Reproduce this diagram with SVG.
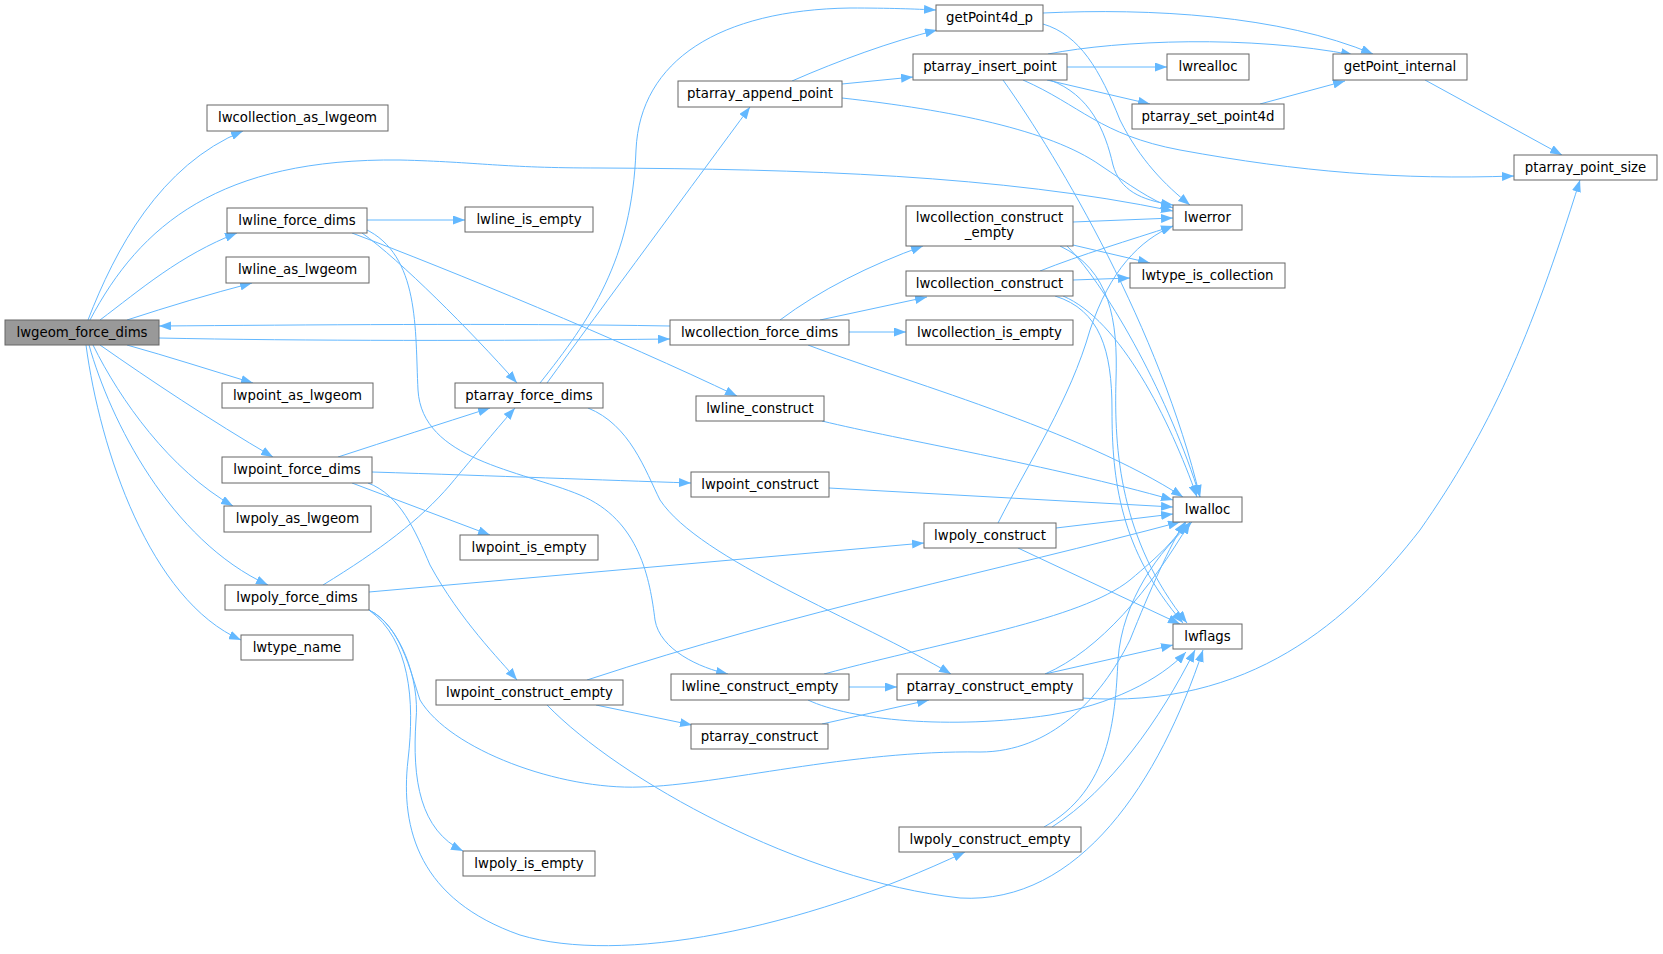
<svg xmlns="http://www.w3.org/2000/svg" width="1663" height="954" viewBox="0 0 1663 954">
<style>
.n rect{fill:#ffffff;stroke:#666666;stroke-width:1}
.n.h rect{fill:#999999}
.n text{font-family:"DejaVu Sans","Liberation Sans",sans-serif;font-size:13.3px;text-anchor:middle;fill:#000000}
.e path{fill:none;stroke:#63b8ff;stroke-width:1;marker-end:url(#a)}
</style>
<defs>
<marker id="a" markerWidth="12" markerHeight="9" refX="12" refY="4.5" orient="auto" markerUnits="userSpaceOnUse"><path d="M0,0 L12,4.5 L0,9 z" fill="#63b8ff"/></marker>
</defs>
<rect width="1663" height="954" fill="#ffffff"/>
<g id="connectors" class="e">
<path d="M88,320 C115,250 160,165 243,131"/>
<path d="M90,320 C140,225 220,158 400,160 C480,162 500,168 600,168 C800,169 1000,175 1173,211"/>
<path d="M100,320 C140,290 180,255 237,233"/>
<path d="M127,320 C170,306 210,294 252,283"/>
<path d="M159,338 C300,341 500,341 670,339"/>
<path d="M670,326 C500,323 300,325 159,326"/>
<path d="M127,345 C170,357 210,370 253,383"/>
<path d="M100,345 C150,380 210,420 273,457"/>
<path d="M93,345 C120,400 170,470 233,506"/>
<path d="M89,345 C110,420 170,540 268,585"/>
<path d="M86,345 C100,450 150,600 241,640"/>
<path d="M367,220 L465,220"/>
<path d="M362,233 C400,260 470,330 517,383"/>
<path d="M352,233 C450,270 620,340 737,396"/>
<path d="M365,229 C420,255 415,330 418,390 C422,460 520,470 580,495 C640,520 650,580 655,620 C660,650 700,668 728,674"/>
<path d="M338,457 C390,440 440,424 490,408"/>
<path d="M372,472 C500,476 600,480 691,483"/>
<path d="M352,483 L490,535"/>
<path d="M368,483 C400,495 415,530 430,565 C460,620 500,660 517,680"/>
<path d="M323,585 C380,550 420,520 450,485 C475,455 500,425 515,408"/>
<path d="M369,592 L924,543"/>
<path d="M369,610 C400,625 410,670 420,700 C450,750 560,790 640,787 C720,785 850,750 980,752 C1050,752 1100,700 1130,640 C1150,590 1170,545 1185,522"/>
<path d="M369,610 C400,625 420,680 416,720 C412,780 420,830 463,851"/>
<path d="M369,610 C410,640 415,700 408,760 C400,830 420,900 520,935 C620,965 800,930 965,852"/>
<path d="M780,320 C820,290 870,265 923,246"/>
<path d="M820,320 L927,297"/>
<path d="M849,332 L906,332"/>
<path d="M808,345 C900,380 1080,430 1183,497"/>
<path d="M822,421 C900,440 1050,465 1173,500"/>
<path d="M829,488 L1173,507"/>
<path d="M1056,528 L1173,514"/>
<path d="M998,523 C1030,460 1070,400 1090,330 C1110,270 1140,240 1173,226"/>
<path d="M1018,548 L1180,624"/>
<path d="M1073,222 L1173,218"/>
<path d="M1073,245 L1150,263"/>
<path d="M1067,246 C1110,290 1170,400 1200,497"/>
<path d="M1060,246 C1110,270 1118,320 1116,380 C1114,450 1120,540 1187,623"/>
<path d="M1040,271 C1080,255 1130,240 1173,226"/>
<path d="M1073,280 L1130,278"/>
<path d="M1063,296 C1120,320 1170,420 1197,497"/>
<path d="M1055,296 C1100,310 1112,350 1112,410 C1112,480 1120,550 1183,623"/>
<path d="M540,383 C590,320 632,260 636,150 C640,60 720,10 850,8 C890,8 915,9 936,10"/>
<path d="M547,383 C600,310 700,175 750,107"/>
<path d="M588,408 C630,425 645,470 660,500 C700,560 860,620 951,674"/>
<path d="M792,81 C840,60 890,42 937,30"/>
<path d="M842,84 L913,77"/>
<path d="M842,98 C950,110 1050,130 1100,165 C1130,185 1150,200 1173,208"/>
<path d="M1043,13 C1150,8 1280,15 1373,54"/>
<path d="M1043,24 C1080,35 1100,70 1120,120 C1140,160 1165,185 1190,205"/>
<path d="M1048,54 C1120,40 1250,35 1353,55"/>
<path d="M1067,67 L1167,67"/>
<path d="M1047,80 L1150,104"/>
<path d="M1050,80 C1090,95 1105,130 1113,165 C1120,190 1140,200 1173,205"/>
<path d="M1023,80 C1080,105 1100,135 1180,150 C1300,172 1400,180 1514,176"/>
<path d="M1003,80 C1060,160 1160,330 1200,497"/>
<path d="M1260,104 L1345,81"/>
<path d="M1425,80 L1562,155"/>
<path d="M587,680 C800,610 1000,570 1180,522"/>
<path d="M596,705 L692,725"/>
<path d="M547,705 C620,780 800,880 960,898 C1080,905 1160,780 1203,650"/>
<path d="M849,687 L897,687"/>
<path d="M824,674 C950,640 1080,620 1130,580 C1160,555 1175,540 1186,522"/>
<path d="M808,700 C850,720 950,730 1050,715 C1110,705 1160,680 1186,652"/>
<path d="M1045,674 C1100,650 1150,590 1190,522"/>
<path d="M1045,674 L1173,645"/>
<path d="M1082,698 C1250,710 1350,620 1420,530 C1490,430 1530,340 1580,180"/>
<path d="M822,724 L929,700"/>
<path d="M1044,827 C1110,790 1115,720 1118,660 C1122,600 1160,550 1192,522"/>
<path d="M1052,827 C1110,790 1160,720 1195,650"/>
</g>
<g id="lwgeom_force_dims" class="n h"><rect x="5" y="320" width="154" height="25"/><text x="82" y="336.5">lwgeom_force_dims</text></g>
<g id="lwcollection_as_lwgeom" class="n"><rect x="207" y="105" width="181" height="26"/><text x="297.5" y="121.5">lwcollection_as_lwgeom</text></g>
<g id="lwline_force_dims" class="n"><rect x="227" y="208" width="140" height="25"/><text x="297" y="224.5">lwline_force_dims</text></g>
<g id="lwline_as_lwgeom" class="n"><rect x="226" y="257" width="143" height="26"/><text x="297.5" y="273.5">lwline_as_lwgeom</text></g>
<g id="lwpoint_as_lwgeom" class="n"><rect x="222" y="383" width="151" height="25"/><text x="297.5" y="399.5">lwpoint_as_lwgeom</text></g>
<g id="lwpoint_force_dims" class="n"><rect x="222" y="457" width="150" height="26"/><text x="297" y="473.5">lwpoint_force_dims</text></g>
<g id="lwpoly_as_lwgeom" class="n"><rect x="224" y="506" width="147" height="26"/><text x="297.5" y="522.5">lwpoly_as_lwgeom</text></g>
<g id="lwpoly_force_dims" class="n"><rect x="225" y="585" width="144" height="25"/><text x="297" y="601.5">lwpoly_force_dims</text></g>
<g id="lwtype_name" class="n"><rect x="241" y="635" width="112" height="25"/><text x="297" y="651.5">lwtype_name</text></g>
<g id="lwline_is_empty" class="n"><rect x="465" y="207" width="128" height="25"/><text x="529" y="223.5">lwline_is_empty</text></g>
<g id="ptarray_append_point" class="n"><rect x="678" y="81" width="164" height="26"/><text x="760" y="97.5">ptarray_append_point</text></g>
<g id="ptarray_force_dims" class="n"><rect x="455" y="383" width="148" height="25"/><text x="529" y="399.5">ptarray_force_dims</text></g>
<g id="lwpoint_is_empty" class="n"><rect x="460" y="535" width="138" height="25"/><text x="529" y="551.5">lwpoint_is_empty</text></g>
<g id="lwpoly_is_empty" class="n"><rect x="463" y="851" width="132" height="25"/><text x="529" y="867.5">lwpoly_is_empty</text></g>
<g id="lwpoint_construct_empty" class="n"><rect x="436" y="680" width="187" height="25"/><text x="529.5" y="696.5">lwpoint_construct_empty</text></g>
<g id="getPoint4d_p" class="n"><rect x="936" y="5" width="107" height="26"/><text x="989.5" y="21.5">getPoint4d_p</text></g>
<g id="ptarray_insert_point" class="n"><rect x="913" y="54" width="154" height="26"/><text x="990" y="70.5">ptarray_insert_point</text></g>
<g id="lwcollection_construct_empty" class="n"><rect x="906" y="206" width="167" height="40"/><text x="989.5" y="222">lwcollection_construct</text><text x="989.5" y="237">_empty</text></g>
<g id="lwcollection_construct" class="n"><rect x="906" y="271" width="167" height="25"/><text x="989.5" y="287.5">lwcollection_construct</text></g>
<g id="lwcollection_force_dims" class="n"><rect x="670" y="320" width="179" height="25"/><text x="759.5" y="336.5">lwcollection_force_dims</text></g>
<g id="lwcollection_is_empty" class="n"><rect x="906" y="320" width="167" height="25"/><text x="989.5" y="336.5">lwcollection_is_empty</text></g>
<g id="lwline_construct" class="n"><rect x="696" y="396" width="128" height="25"/><text x="760" y="412.5">lwline_construct</text></g>
<g id="lwpoint_construct" class="n"><rect x="691" y="472" width="138" height="25"/><text x="760" y="488.5">lwpoint_construct</text></g>
<g id="lwpoly_construct" class="n"><rect x="924" y="523" width="132" height="25"/><text x="990" y="539.5">lwpoly_construct</text></g>
<g id="lwline_construct_empty" class="n"><rect x="671" y="674" width="178" height="26"/><text x="760" y="690.5">lwline_construct_empty</text></g>
<g id="ptarray_construct_empty" class="n"><rect x="897" y="674" width="186" height="26"/><text x="990" y="690.5">ptarray_construct_empty</text></g>
<g id="ptarray_construct" class="n"><rect x="691" y="724" width="137" height="25"/><text x="759.5" y="740.5">ptarray_construct</text></g>
<g id="lwpoly_construct_empty" class="n"><rect x="899" y="827" width="182" height="25"/><text x="990" y="843.5">lwpoly_construct_empty</text></g>
<g id="lwrealloc" class="n"><rect x="1167" y="54" width="82" height="26"/><text x="1208" y="70.5">lwrealloc</text></g>
<g id="ptarray_set_point4d" class="n"><rect x="1132" y="104" width="152" height="25"/><text x="1208" y="120.5">ptarray_set_point4d</text></g>
<g id="lwerror" class="n"><rect x="1173" y="205" width="69" height="25"/><text x="1207.5" y="221.5">lwerror</text></g>
<g id="lwtype_is_collection" class="n"><rect x="1130" y="263" width="155" height="25"/><text x="1207.5" y="279.5">lwtype_is_collection</text></g>
<g id="lwalloc" class="n"><rect x="1173" y="497" width="69" height="25"/><text x="1207.5" y="513.5">lwalloc</text></g>
<g id="lwflags" class="n"><rect x="1173" y="624" width="69" height="25"/><text x="1207.5" y="640.5">lwflags</text></g>
<g id="getPoint_internal" class="n"><rect x="1333" y="54" width="134" height="26"/><text x="1400" y="70.5">getPoint_internal</text></g>
<g id="ptarray_point_size" class="n"><rect x="1514" y="155" width="143" height="25"/><text x="1585.5" y="171.5">ptarray_point_size</text></g>
</svg>
